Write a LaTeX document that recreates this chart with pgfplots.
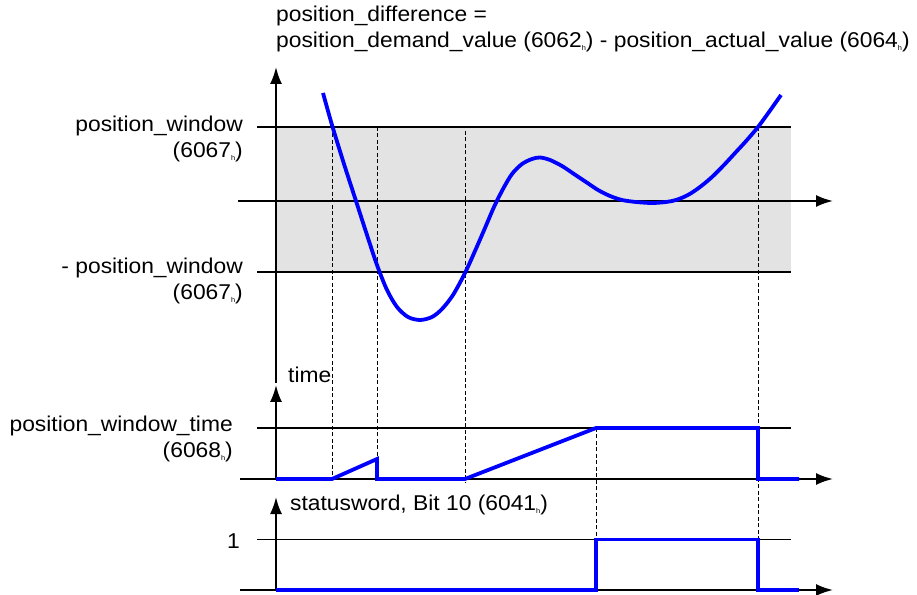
\documentclass[border=0pt]{standalone}
\usepackage{fontspec}
\setmainfont{Liberation Sans}[FakeStretch=1.065]
\usepackage{pgfplots}
\pgfplotsset{compat=1.18}
\usetikzlibrary{arrows.meta}

\newcommand{\lbl}{\fontsize{21.5}{26}\selectfont}
% tiny subscript "h" of the object indices
\newcommand{\hx}{\raisebox{-3bp}{\fontsize{7}{7}\selectfont h}}
\newcommand{\two}[2]{\begin{tabular}[t]{@{}r@{}}#1\\#2\end{tabular}}

\pgfplotsset{
  timing/.style={
    scale only axis,
    anchor=south west,
    axis lines=middle,
    enlargelimits=false,
    axis line style={line width=2bp},
    every inner x axis line/.append style={-{Latex[length=17bp,width=12bp]}},
    every inner y axis line/.append style={-{Latex[length=17bp,width=12bp]}},
    xtick=\empty,
    major tick length=0pt,
    yticklabel style={anchor=base east, inner sep=0pt},
    clip=false,
    xmax=557,
  },
  sig/.style={blue, line width=3.8bp},
  lvl/.style={black, line width=1.3bp},
  guide/.style={black, line width=1bp, dash pattern=on 4bp off 2.5bp},
}

\begin{document}
\begin{tikzpicture}[font=\lbl]
\path[use as bounding box] (0,0) rectangle (917bp,595bp);

% position difference
\begin{axis}[timing, at={(238bp,212bp)}, width=595bp, height=316bp,
  xmin=-38, ymin=-182, ymax=134,
  ytick={-71,0,74},
  yticklabels={\raisebox{-2bp}{\two{- position\_window}{(6067\hx)}},
               \raisebox{-9bp}{0}\hspace{10bp},
               \raisebox{-5bp}{\two{position\_window}{(6067\hx)}}},
  yticklabel style={xshift=-33bp}]
\addplot[fill=black!11, draw=none]
  coordinates {(1,1.2) (515,1.2) (515,74) (1,74)};
\addplot[fill=black!11, draw=none]
  coordinates {(1,-71) (515,-71) (515,-1.2) (1,-1.2)};
\addplot[lvl] coordinates {(-19,74) (515,74)};
\addplot[lvl] coordinates {(-19,-71) (515,-71)};
\addplot[guide] coordinates {(56,74) (56,-278)};
\addplot[guide] coordinates {(101,74) (101,-258)};
\addplot[guide] coordinates {(189,70) (189,-282)};
\addplot[guide] coordinates {(482,74) (482,-339)};
\addplot[sig, smooth] coordinates {
  (47,108) (56,76) (68,37) (80,0) (91,-34) (101,-64) (111,-89) (121,-106)
  (132,-116) (144,-119) (156,-116) (166,-108) (177,-94) (189,-72)
  (199,-50) (209,-27) (218,-6) (227,12) (236,27) (246,37) (256,42)
  (264,43.5) (274,41) (286,35) (298,27) (310,19) (322,11) (334,5)
  (346,1) (360,-1) (376,-2) (390,-1) (400,1) (412,6) (424,14) (436,24)
  (448,36) (460,49) (471,61) (482,74) (493,89) (505,106)};
\node[anchor=base west, inner sep=0pt] at (axis cs:0,179)
  {\begin{tabular}[t]{@{}l@{}}position\_difference =\\
   position\_demand\_value (6062\hx) - position\_actual\_value (6064\hx)\end{tabular}};
\node[anchor=base west, inner sep=0pt] at (axis cs:12,-182) {time};
\end{axis}

% position window time
\begin{axis}[timing, at={(240bp,116bp)}, width=593bp, height=94bp,
  xmin=-36, ymin=0, ymax=94,
  ytick={51},
  yticklabels={\raisebox{-3.5bp}{\two{position\_window\_time}{(6068\hx)}}},
  yticklabel style={xshift=-43bp}]
\addplot[lvl] coordinates {(-19,51) (515,51)};
\addplot[guide] coordinates {(320,51) (320,-61)};
\addplot[sig] coordinates {(0,0) (56,0) (101,20) (101,0) (189,0) (320,51)
  (482,51) (482,0) (523,0)};
\end{axis}

% statusword bit 10
\begin{axis}[timing, at={(240bp,5bp)}, width=593bp, height=93bp,
  xmin=-36, ymin=0, ymax=93,
  ytick={50.5},
  yticklabels={\raisebox{-9bp}{1}},
  yticklabel style={xshift=-36bp}]
\addplot[lvl] coordinates {(-19,50.5) (515,50.5)};
\addplot[sig] coordinates {(0,0) (320,0) (320,50.5) (482,50.5) (482,0) (523,0)};
\node[anchor=base west, inner sep=0pt] at (axis cs:14,80)
  {statusword, Bit 10 (6041\hx)};
\end{axis}
\end{tikzpicture}
\end{document}
